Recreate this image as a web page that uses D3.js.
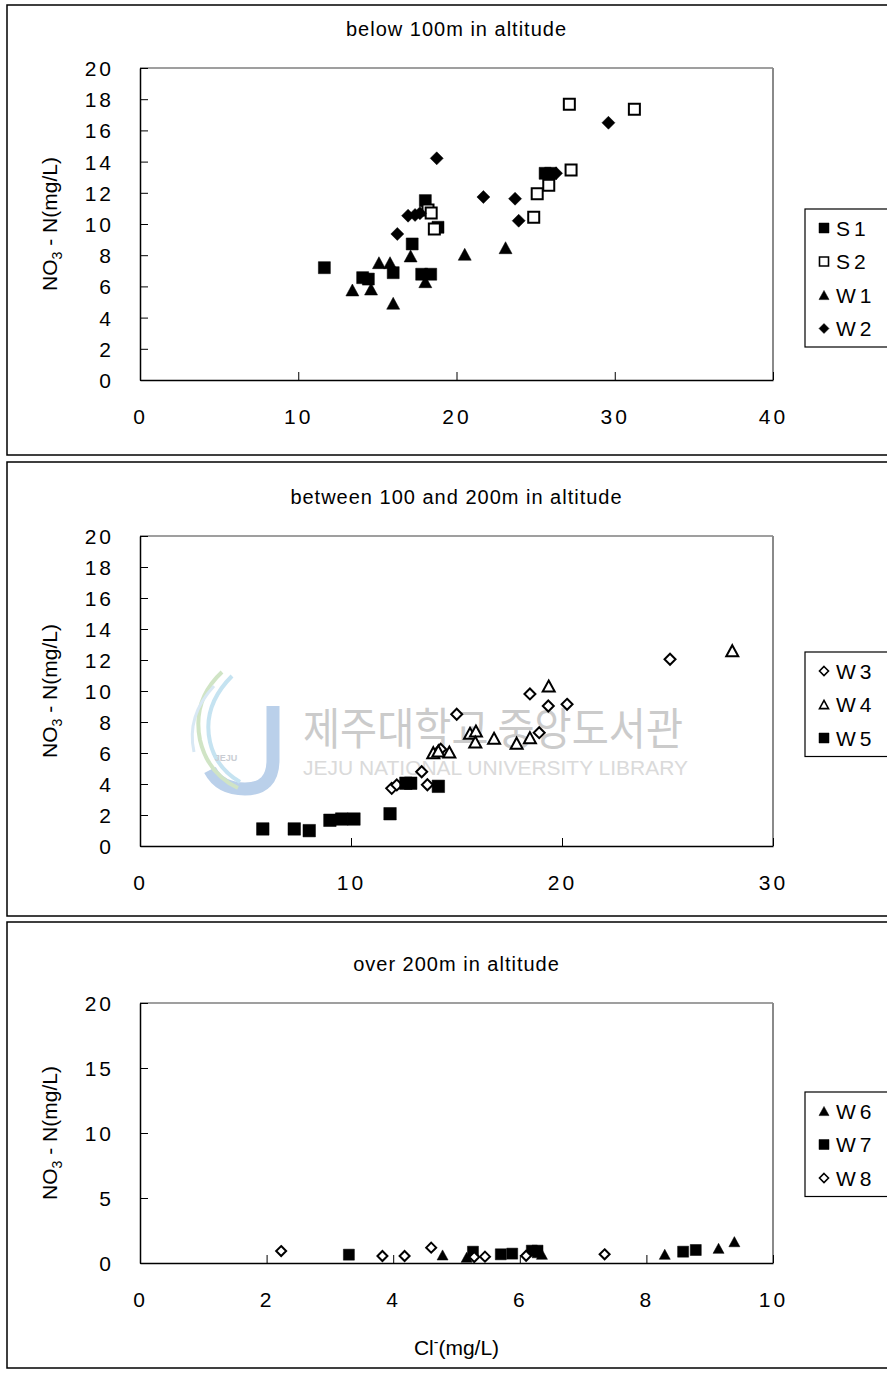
<!DOCTYPE html>
<html>
<head>
<meta charset="utf-8">
<script src="https://cdn.jsdelivr.net/npm/d3@7"></script>
<style>
  html, body { margin: 0; padding: 0; background: #fff; }
  svg { display: block; }
  text { font-family: "Liberation Sans", Arial, sans-serif; fill: #000; }
</style>
</head>
<body>
<svg id="chart" width="887" height="1375"></svg>
<script>
// ---- data: Cl- (mg/L) vs NO3-N (mg/L) per well ----
// below 100 m
const S1_cl  = [11.65, 14.07, 14.43, 16.0, 17.2, 18.03, 18.83, 17.8, 18.37, 25.6, 25.95];
const S1_no3 = [7.2, 6.56, 6.47, 6.88, 8.72, 11.5, 9.79, 6.78, 6.78, 13.25, 13.25];
const S2_cl  = [27.13, 31.24, 27.24, 25.83, 25.1, 24.88, 18.6, 18.2, 18.4];
const S2_no3 = [17.67, 17.35, 13.46, 12.48, 11.94, 10.43, 9.68, 10.9, 10.7];
const W1_cl  = [13.42, 14.6, 15.1, 15.8, 16.0, 17.1, 18.03, 20.52, 23.1];
const W1_no3 = [5.77, 5.83, 7.52, 7.52, 4.92, 7.95, 6.3, 8.06, 8.48];
const W2_cl  = [18.75, 21.7, 23.7, 23.93, 29.6, 16.26, 16.94, 17.38, 17.69, 26.29];
const W2_no3 = [14.21, 11.73, 11.62, 10.21, 16.49, 9.36, 10.53, 10.58, 10.69, 13.25];
// between 100 and 200 m
const W3_cl  = [11.93, 12.17, 13.35, 13.62, 15.01, 18.48, 19.35, 20.24, 18.92, 14.25, 25.12];
const W3_no3 = [3.72, 3.94, 4.79, 3.95, 8.5, 9.81, 9.03, 9.14, 7.31, 6.24, 12.05];
const W4_cl  = [13.9, 14.14, 14.66, 15.64, 15.92, 15.89, 16.78, 17.85, 18.48, 19.37, 28.07];
const W4_no3 = [6.02, 6.13, 6.06, 7.27, 7.42, 6.71, 6.95, 6.63, 6.99, 10.32, 12.6];
const W5_cl  = [5.82, 7.31, 8.02, 9.0, 9.56, 10.14, 11.85, 12.6, 12.83, 14.14];
const W5_no3 = [1.10, 1.10, 0.99, 1.66, 1.74, 1.74, 2.08, 4.05, 4.05, 3.85];
// over 200 m
const W6_cl  = [4.78, 5.16, 6.28, 6.35, 8.29, 9.14, 9.39];
const W6_no3 = [0.62, 0.44, 0.79, 0.67, 0.67, 1.13, 1.64];
const W7_cl  = [3.3, 5.26, 5.7, 5.88, 6.19, 6.28, 8.58, 8.78];
const W7_no3 = [0.64, 0.87, 0.67, 0.72, 0.95, 0.95, 0.87, 1.0];
const W8_cl  = [2.23, 3.83, 4.18, 4.6, 5.28, 5.45, 6.1, 7.34];
const W8_no3 = [0.92, 0.54, 0.54, 1.18, 0.46, 0.49, 0.56, 0.67];

// axis ticks
const ticksX1 = [0, 10, 20, 30, 40];
const ticksX2 = [0, 10, 20, 30];
const ticksX3 = [0, 2, 4, 6, 8, 10];
const ticksY12 = [0, 2, 4, 6, 8, 10, 12, 14, 16, 18, 20];
const ticksY3 = [0, 5, 10, 15, 20];

const titles = ["below 100m in altitude", "between 100 and 200m in altitude", "over 200m in altitude"];

const svg = d3.select("#chart");

// marker path in a local frame centred at (0,0)
function markerPath(shape, s) {
  const h = s / 2;
  if (shape === "square") return `M${-h},${-h}H${h}V${h}H${-h}Z`;
  if (shape === "diamond") return `M0,${-h}L${h},0L0,${h}L${-h},0Z`;
  // triangle
  const th = s * 0.92 / 2;
  return `M0,${-th}L${h},${th}L${-h},${th}Z`;
}

const panels = [
  {
    frame: [5, 455], plot: [68, 380], xDomain: [0, 40], xt: ticksX1, yt: ticksY12,
    legendTop: 209, legendRows: 4,
    series: [
      { name: "S1", cl: S1_cl, n: S1_no3, shape: "square", fill: true, size: 12 },
      { name: "S2", cl: S2_cl, n: S2_no3, shape: "square", fill: false, size: 11 },
      { name: "W1", cl: W1_cl, n: W1_no3, shape: "triangle", fill: true, size: 13 },
      { name: "W2", cl: W2_cl, n: W2_no3, shape: "diamond", fill: true, size: 13 }
    ]
  },
  {
    frame: [462, 916], plot: [536, 846], xDomain: [0, 30], xt: ticksX2, yt: ticksY12,
    legendTop: 652, legendRows: 3, watermark: true,
    series: [
      { name: "W3", cl: W3_cl, n: W3_no3, shape: "diamond", fill: false, size: 11 },
      { name: "W4", cl: W4_cl, n: W4_no3, shape: "triangle", fill: false, size: 12 },
      { name: "W5", cl: W5_cl, n: W5_no3, shape: "square", fill: true, size: 12.5 }
    ]
  },
  {
    frame: [922, 1368], plot: [1003, 1263], xDomain: [0, 10], xt: ticksX3, yt: ticksY3,
    legendTop: 1092, legendRows: 3, xTitle: true,
    series: [
      { name: "W6", cl: W6_cl, n: W6_no3, shape: "triangle", fill: true, size: 11 },
      { name: "W7", cl: W7_cl, n: W7_no3, shape: "square", fill: true, size: 11 },
      { name: "W8", cl: W8_cl, n: W8_no3, shape: "diamond", fill: false, size: 10 }
    ]
  }
];

const plotLeft = 140, plotRight = 773;

panels.forEach((p, i) => {
  const g = svg.append("g");
  const [top, bottom] = p.plot;

  // panel frame (right side runs past the page edge)
  g.append("rect")
    .attr("x", 7).attr("y", p.frame[0])
    .attr("width", 900).attr("height", p.frame[1] - p.frame[0])
    .attr("fill", "none").attr("stroke", "#000").attr("stroke-width", 1.5);

  const x = d3.scaleLinear().domain(p.xDomain).range([plotLeft, plotRight]);
  const y = d3.scaleLinear().domain([0, 20]).range([bottom, top]);

  // library watermark behind the plot
  if (p.watermark) {
    const wm = g.append("g").attr("opacity", 0.9);
    wm.append("path")
      .attr("d", "M273,706 L273,760 Q273,789 245,789 Q220,789 210,770")
      .attr("fill", "none").attr("stroke", "#b3cbe8").attr("stroke-width", 13);
    wm.append("path")
      .attr("d", "M222,672 Q192,700 200,740 Q208,774 238,788")
      .attr("fill", "none").attr("stroke", "#cbe2bf").attr("stroke-width", 4);
    wm.append("path")
      .attr("d", "M232,676 Q202,706 210,742 Q216,768 240,782")
      .attr("fill", "none").attr("stroke", "#bfe0f0").attr("stroke-width", 4);
    wm.append("path")
      .attr("d", "M214,686 Q186,716 194,752")
      .attr("fill", "none").attr("stroke", "#d4e6f3").attr("stroke-width", 3);
    wm.append("text").attr("x", 226).attr("y", 761).attr("text-anchor", "middle")
      .style("font-size", "9px").style("font-weight", "bold").style("fill", "#c4c8cf").text("JEJU");
    wm.append("text").attr("x", 303).attr("y", 745)
      .attr("textLength", 380).attr("lengthAdjust", "spacingAndGlyphs")
      .style("font-family", "'Noto Sans CJK KR', sans-serif")
      .style("font-size", "44px").style("fill", "#c6c6c6").text("제주대학교 중앙도서관");
    wm.append("text").attr("x", 303).attr("y", 775)
      .attr("textLength", 385).attr("lengthAdjust", "spacingAndGlyphs")
      .style("font-size", "21px").style("fill", "#d6d6d6").text("JEJU NATIONAL UNIVERSITY  LIBRARY");
  }

  // top and right edges of the plot area
  g.append("line").attr("x1", plotLeft).attr("x2", plotRight).attr("y1", top).attr("y2", top)
    .attr("stroke", "#7f7f7f").attr("stroke-width", 1.5);
  g.append("line").attr("x1", plotRight).attr("x2", plotRight).attr("y1", top).attr("y2", bottom)
    .attr("stroke", "#8a8a8a").attr("stroke-width", 2);

  // axes with inward ticks
  const xAxis = d3.axisBottom(x).tickValues(p.xt).tickSize(-8).tickSizeOuter(0).tickPadding(29);
  const yAxis = d3.axisLeft(y).tickValues(p.yt).tickSize(-8).tickSizeOuter(0).tickPadding(26);

  const gx = g.append("g").attr("transform", `translate(0,${bottom})`).call(xAxis);
  const gy = g.append("g").attr("transform", `translate(${plotLeft},0)`).call(yAxis);
  [gx, gy].forEach(a => {
    a.select(".domain").attr("stroke", "#000").attr("stroke-width", 1.5);
    a.selectAll(".tick line").attr("stroke", "#000").attr("stroke-width", 1);
    a.selectAll(".tick text").style("font-size", "21px").style("letter-spacing", "3px")
      .attr("fill", "#000").style("font-family", "'Liberation Sans', Arial, sans-serif");
  });
  gy.selectAll(".tick text").attr("dy", "0.36em");

  // panel title
  g.append("text").attr("x", (plotLeft + plotRight) / 2).attr("y", top - 32)
    .attr("text-anchor", "middle").style("font-size", "20px").style("letter-spacing", "1px")
    .text(titles[i]);

  // y-axis title: NO3 - N(mg/L)
  const yt = g.append("text")
    .attr("transform", `translate(57,${(top + bottom) / 2}) rotate(-90)`)
    .attr("text-anchor", "middle").style("font-size", "21px");
  yt.append("tspan").text("NO");
  yt.append("tspan").attr("dy", 5).style("font-size", "14px").text("3");
  yt.append("tspan").attr("dy", -5).text(" - N(mg/L)");

  // x-axis title on the last panel
  if (p.xTitle) {
    const xt = g.append("text").attr("x", (plotLeft + plotRight) / 2).attr("y", bottom + 92)
      .attr("text-anchor", "middle").style("font-size", "21px");
    xt.append("tspan").text("Cl");
    xt.append("tspan").attr("dy", -8).style("font-size", "14px").text("-");
    xt.append("tspan").attr("dy", 8).text("(mg/L)");
  }

  // points
  p.series.forEach(s => {
    const pts = s.cl.map((c, k) => [c, s.n[k]]);
    g.append("g").selectAll("path").data(pts).join("path")
      .attr("transform", d => `translate(${x(d[0])},${y(d[1])})`)
      .attr("d", markerPath(s.shape, s.size))
      .attr("fill", s.fill ? "#000" : "#fff")
      .attr("stroke", "#000")
      .attr("stroke-width", s.fill ? 0.5 : 2)
      .attr("stroke-linejoin", "miter");
  });

  // legend
  const rowH = 33.5;
  const lg = g.append("g");
  lg.append("rect").attr("x", 805).attr("y", p.legendTop)
    .attr("width", 100).attr("height", p.legendRows * rowH + 4)
    .attr("fill", "#fff").attr("stroke", "#000").attr("stroke-width", 1.2);
  p.series.forEach((s, k) => {
    const cy = p.legendTop + 19 + k * rowH;
    lg.append("path").attr("transform", `translate(824,${cy})`)
      .attr("d", markerPath(s.shape, s.fill ? 10 : 9))
      .attr("fill", s.fill ? "#000" : "#fff").attr("stroke", "#000")
      .attr("stroke-width", s.fill ? 0.5 : 1.6);
    lg.append("text").attr("x", 836).attr("y", cy).attr("dy", "0.36em")
      .style("font-size", "21px").style("letter-spacing", "4px").text(s.name);
  });
});
</script>
</body>
</html>
